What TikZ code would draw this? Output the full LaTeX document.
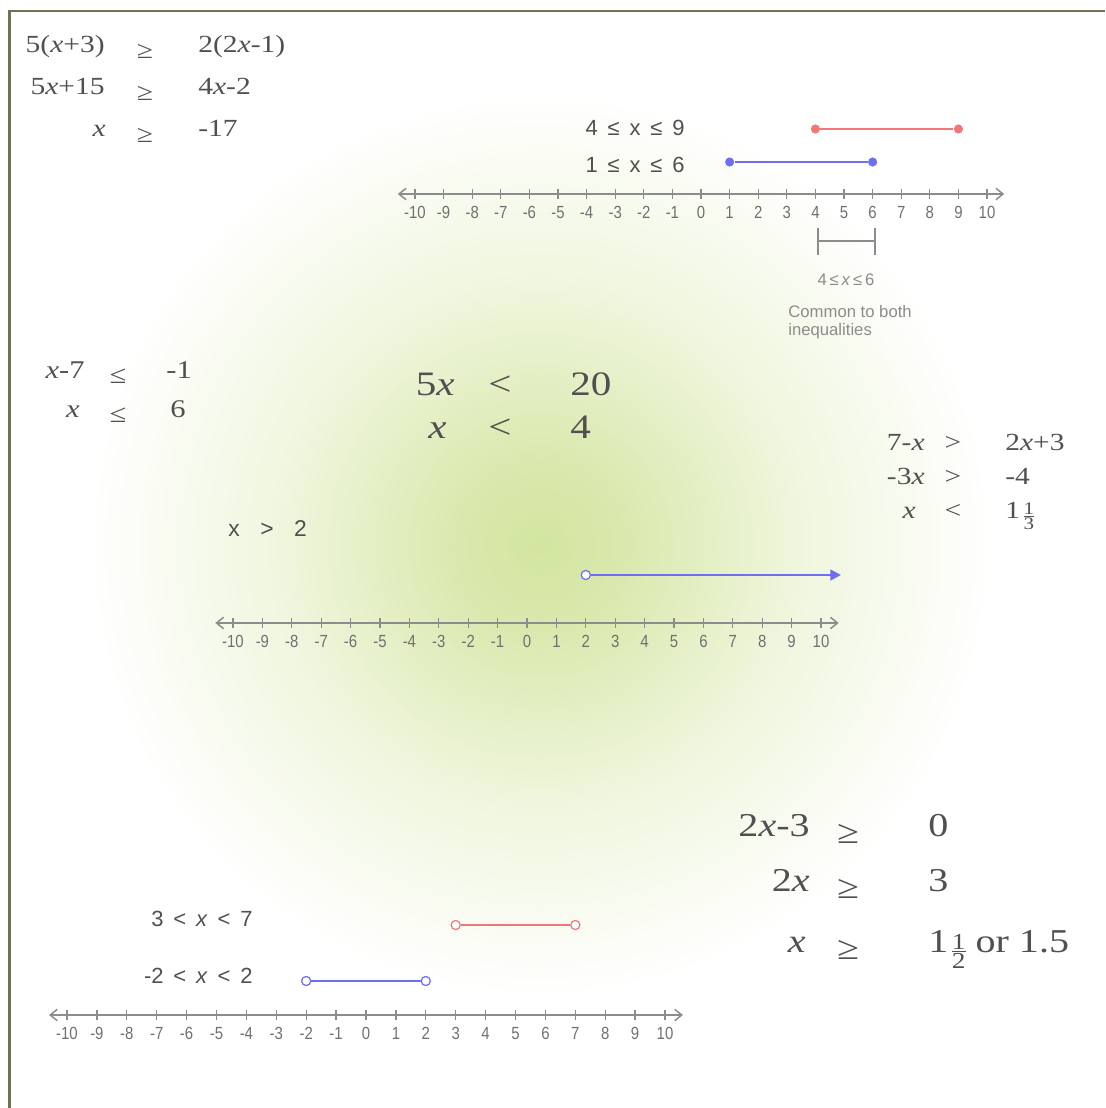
\documentclass[tikz,border=0pt]{standalone}
\usepackage{fontspec}
\setmainfont{Liberation Serif}[FakeStretch=1.2]
\newfontfamily\lblfont{Liberation Sans}
\newfontfamily\tickfont{Liberation Sans}[FakeStretch=0.85]
\usepackage{tikz}
\usetikzlibrary{arrows.meta}
\definecolor{frameColor}{HTML}{6E7256}
\definecolor{glowColor}{HTML}{D3E5A0}
\definecolor{textColor}{HTML}{505050}
\definecolor{redColor}{HTML}{F07878}
\definecolor{blueColor}{HTML}{6E6EF0}
\definecolor{axisColor}{HTML}{8C8C8C}

\pgfdeclareradialshading{glow}{\pgfpoint{0bp}{0bp}}{color(0bp)=(glowColor); color(4bp)=(glowColor!85!white); color(12bp)=(glowColor!35!white); color(21bp)=(white); color(50bp)=(white)}

\tikzset{
  axis/.style={draw=axisColor, line width=0.85pt, {Straight Barb[length=4pt,width=6.5pt]}-{Straight Barb[length=4pt,width=6.5pt]}},
  tickmark/.style={draw=axisColor, line width=0.7pt},
  ticklbl/.style={text=axisColor!80!black, font=\tickfont\fontsize{10}{11}\selectfont, inner sep=0pt, anchor=base},
  eq/.style={text=textColor, inner sep=0pt},
  lbl/.style={text=textColor, inner sep=0pt, font=\lblfont\fontsize{12.5}{14}\selectfont},
  note/.style={text=axisColor, inner sep=0pt, font=\lblfont\fontsize{9.5}{10.5}\selectfont},
  seg/.style={line width=1.4pt},
  closeddot/.style={circle, inner sep=0pt, minimum size=5.2pt},
  opendot/.style={circle, draw, fill=white, line width=0.7pt, inner sep=0pt, minimum size=5.2pt},
  bracket/.style={draw=axisColor, line width=0.6pt}
}

\newcommand{\lowrel}[1]{\raisebox{-0.22em}{#1}}
\newcommand{\lgap}{\hspace{0.45em}}
\newcommand{\stfrac}[3]{\raisebox{-0.2em}{$\vcenter{\offinterlineskip\halign{\hfil##\hfil\cr\fontsize{#1}{#1}\selectfont#2\cr\noalign{\kern0.8pt\hrule height0.5pt\kern0.8pt}\fontsize{#1}{#1}\selectfont#3\cr}}$}}

\newcommand{\ineq}[8]{%
  \node[eq, anchor=base east] (#1a) at (#2,#5) {#6};
  \node[eq, anchor=base] (#1b) at (#3,#5) {#7};
  \node[eq, anchor=base west] (#1c) at (#4,#5) {#8};
}

\newcommand{\numline}[4]{%
  \coordinate (#1L) at ({#2-10.6*#4},#3);
  \coordinate (#1R) at ({#2+10.6*#4},#3);
  \draw[axis] (#1L) -- (#1R);
  \foreach \tk in {-10,...,10}{
    \draw[tickmark] ({#2+\tk*#4},{#3-5}) -- ({#2+\tk*#4},{#3+5});
    \node[ticklbl] (#1n\tk) at ({#2+\tk*#4},{#3+24}) {\tk};
  }
}

\begin{document}
\begin{tikzpicture}[x=0.02cm, y=-0.02cm]
    \useasboundingbox (0,0) rectangle (1105,1108);
    \fill[white] (0,0) rectangle (1105,1108);
    \shade[shading=glow] (540,545) circle (540);
    \fill[white] (11,13) rectangle (1105,0) (0,0) rectangle (8,1108);
    \draw[frameColor, line width=1.7pt] (9.5,1108) -- (9.5,11) -- (1105,11);

    \begin{scope}[font=\fontsize{14}{16}\selectfont]
        \ineq{a1}{105}{145}{198}{53}{5(\textit{x}+3)}{\lowrel{≥}}{2(2\textit{x}-1)}
        \ineq{a2}{105}{145}{198}{95}{5\textit{x}+15}{\lowrel{≥}}{4\textit{x}-2}
        \ineq{a3}{106}{145}{198}{137}{\textit{x}}{\lowrel{≥}}{-17}
    \end{scope}

    \begin{scope}[font=\fontsize{14.5}{16}\selectfont]
        \ineq{b1}{85}{118}{166}{378}{\textit{x}-7}{\lowrel{≤}}{-1}
        \ineq{b2}{80}{118}{170}{417}{\textit{x}}{\lowrel{≤}}{6}
    \end{scope}

    \begin{scope}[font=\fontsize{19.5}{22}\selectfont]
        \ineq{c1}{455}{500}{570}{395}{5\textit{x}}{<}{20}
        \ineq{c2}{447}{500}{570}{438}{\textit{x}}{<}{4}
    \end{scope}

    \begin{scope}[font=\fontsize{14}{16}\selectfont]
        \ineq{d1}{925}{953}{1005}{450}{7-\textit{x}}{>}{2\textit{x}+3}
        \ineq{d2}{925}{953}{1005}{484}{-3\textit{x}}{>}{-4}
        \ineq{d3}{916}{953}{1005}{518}{\textit{x}}{<}{1\kern2pt\stfrac{10}{1}{3}}
    \end{scope}

    \begin{scope}[font=\fontsize{19}{22}\selectfont]
        \ineq{e1}{810}{848}{928}{836}{2\textit{x}-3}{\lowrel{≥}}{0}
        \ineq{e2}{810}{848}{928}{891}{2\textit{x}}{\lowrel{≥}}{3}
        \ineq{e3}{806}{848}{928}{952}{\textit{x}}{\lowrel{≥}}{1\kern2pt\stfrac{13}{1}{2}\ or 1.5}
    \end{scope}

    \numline{top}{701}{194}{28.6}
    \node[lbl, anchor=base east] (topRedLbl) at (685,136) {4\lgap≤\lgap x\lgap≤\lgap 9};
    \node[lbl, anchor=base east] (topBlueLbl) at (685,173) {1\lgap≤\lgap x\lgap≤\lgap 6};
    \node[closeddot, fill=redColor] (r4) at ({701+4*28.6},129) {};
    \node[closeddot, fill=redColor] (r9) at ({701+9*28.6},129) {};
    \node[closeddot, fill=blueColor] (b1) at ({701+1*28.6},162) {};
    \node[closeddot, fill=blueColor] (b6) at ({701+6*28.6},162) {};
    \draw[seg, redColor] (r4) -- (r9);
    \draw[seg, blueColor] (b1) -- (b6);
    \draw[bracket] (818,228) -- (818,255) (875,228) -- (875,255) (818,241) -- (875,241);
    \node[note, anchor=base] (commonLbl) at (846,285) {4\,≤\,\textit{x}\,≤\,6};
    \node[note, anchor=north west, align=left] (commonTxt) at (788,305) {Common to both\\inequalities};

    \numline{mid}{527}{623}{29.4}
    \node[lbl, anchor=base west, font=\lblfont\fontsize{13}{15}\selectfont] (midLbl) at (228,536) {x\hspace{0.9em}>\hspace{0.9em}2};
    \node[opendot, draw=blueColor] (m2) at ({527+2*29.4},575) {};
    \coordinate (mEnd) at (841,575);
    \draw[seg, blueColor, -{Triangle[length=6pt,width=6pt]}] (m2) -- (mEnd);

    \numline{bot}{366}{1015}{29.9}
    \node[lbl, anchor=base east] (botRedLbl) at (253,926) {3\lgap<\lgap\textit{x}\lgap<\lgap 7};
    \node[lbl, anchor=base east] (botBlueLbl) at (253,983) {-2\lgap<\lgap\textit{x}\lgap<\lgap 2};
    \node[opendot, draw=redColor] (o3) at ({366+3*29.9},925) {};
    \node[opendot, draw=redColor] (o7) at ({366+7*29.9},925) {};
    \node[opendot, draw=blueColor] (om2) at ({366-2*29.9},981) {};
    \node[opendot, draw=blueColor] (op2) at ({366+2*29.9},981) {};
    \draw[seg, redColor] (o3) -- (o7);
    \draw[seg, blueColor] (om2) -- (op2);
\end{tikzpicture}
\end{document}
